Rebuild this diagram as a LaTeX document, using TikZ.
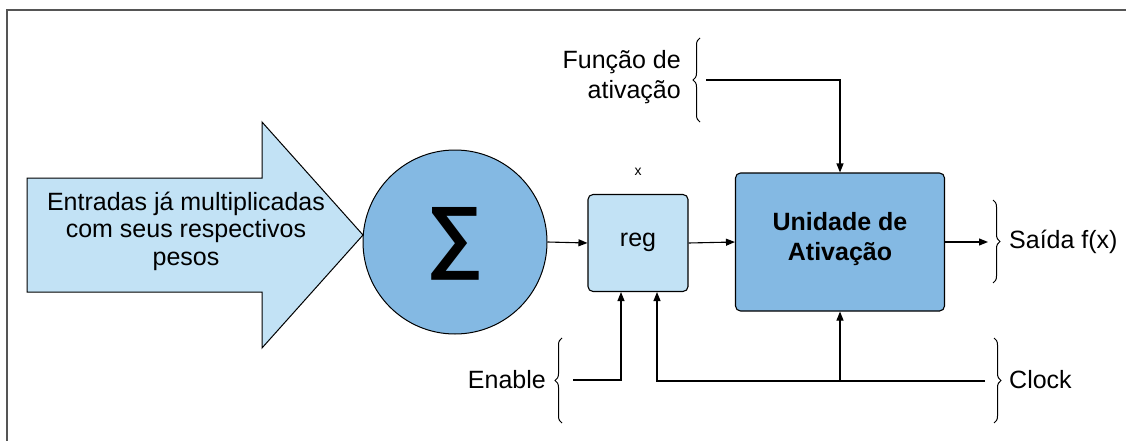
\documentclass[tikz,border=0pt]{standalone}
\usepackage{fontspec}
\setmainfont{Liberation Sans}
\usepackage{graphicx}
\usetikzlibrary{arrows.meta,decorations.pathreplacing,calc}
\definecolor{lightblue}{HTML}{C2E2F5}
\definecolor{darkblue}{HTML}{84B9E3}
\definecolor{framegray}{HTML}{555555}
\tikzset{
  arr/.style={draw=black,line width=1.1pt,-{Triangle[length=9pt,width=7pt]}},
  wire/.style={draw=black,line width=1.1pt},
  brc/.style={draw=black,line width=1pt,decorate,decoration={brace,amplitude=7pt}},
  lbl/.style={font=\fontsize{25}{30}\selectfont,inner sep=0pt},
  box/.style={draw=black,line width=1.1pt,rounded corners=5pt},
}
\begin{document}
\begin{tikzpicture}[x=1pt,y=-1pt]
\useasboundingbox (0,0) rectangle (1126,441);
% frame
\draw[framegray,line width=1.5pt] (7,441) -- (7,10) -- (1126,10);
% big arrow
\draw[fill=lightblue,draw=black,line width=1pt]
  (27,178) -- (262,178) -- (262,122) -- (363,235) -- (262,348) -- (262,292) -- (27,292) -- cycle;
\node[lbl,align=center,font=\fontsize{25}{27.5}\selectfont] (inp) at (186,231) {Entradas já multiplicadas\\com seus respectivos\\pesos};
% sum circle
\node[circle,draw=black,line width=1pt,fill=darkblue,minimum size=184pt,inner sep=0pt] (sum) at (455,242) {};
\node[inner sep=0pt,font=\fontsize{80}{80}\selectfont\bfseries] (sig) at (455,244) {∑};
% reg
\node[box,fill=lightblue,minimum width=100pt,minimum height=97pt] (reg) at (638,243) {};
\node[lbl] (regt) at (638,242) {reg};
\node[inner sep=0pt,font=\fontsize{14}{16}\selectfont] (xl) at (638,172) {x};
% unit
\node[box,fill=darkblue,minimum width=209pt,minimum height=138pt] (unit) at (840,242) {};
\node[lbl,align=center,font=\fontsize{25}{30}\selectfont\bfseries] (unitt) at (840,239) {Unidade de\\Ativação};
% connectors main line
\draw[arr] (sum.east) -- (reg.west);
\draw[arr] (reg.east) -- (unit.west);
\coordinate (outend) at (988,242);
\draw[arr] (unit.east) -- (outend);
% output brace & label
\coordinate (sb1) at (993,200);
\coordinate (sb2) at (993,283);
\draw[brc] (sb1) -- (sb2);
\node[lbl,anchor=west] (said) at (1009,242) {Saída f(x)};
% Funcao de ativacao
\node[lbl,align=right,anchor=east] (func) at (681,77) {Função de\\ativação};
\coordinate (fb1) at (700,122);
\coordinate (fb2) at (700,38);
\draw[brc] (fb1) -- (fb2);
\coordinate (fst) at (706,80);
\draw[arr] (fst) -| (unit.north);
% Enable
\node[lbl,anchor=east] (en) at (546,380) {Enable};
\coordinate (eb1) at (562,423);
\coordinate (eb2) at (562,338);
\draw[brc] (eb1) -- (eb2);
\coordinate (est) at (573,380);
\draw[arr] (est) -| ($(reg.south)+(-17,0)$);
% Clock
\coordinate (cb1) at (994,338);
\coordinate (cb2) at (994,423);
\draw[brc] (cb1) -- (cb2);
\node[lbl,anchor=west] (clk) at (1009,380) {Clock};
\coordinate (cst) at (985,381);
\coordinate (cj) at (840,381);
\draw[arr] (cst) -| ($(reg.south)+(19,0)$);
\draw[arr] (cj) -- (unit.south);
\end{tikzpicture}
\end{document}
